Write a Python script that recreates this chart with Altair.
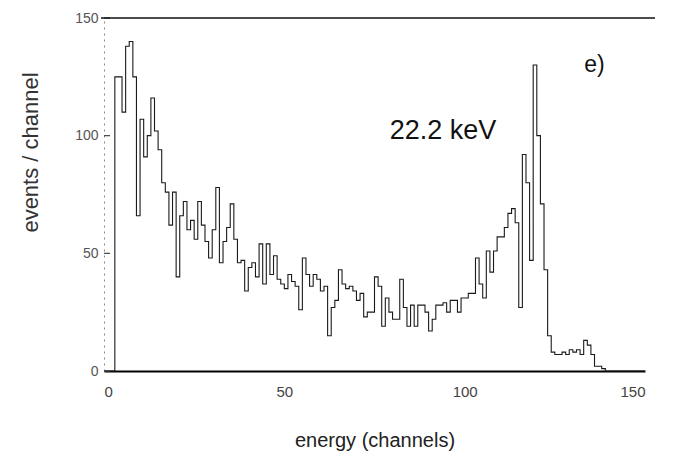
import altair as alt
import pandas as pd

# histogram counts per channel (channel 0..149)
counts = [
    0, 0, 0, 125, 125, 110, 138, 140, 125, 66,
    107, 91, 100, 116, 102, 94, 80, 76, 62, 76,
    40, 66, 72, 60, 64, 56, 72, 62, 55, 48,
    60, 78, 46, 55, 61, 71, 56, 46, 47, 34,
    44, 46, 40, 54, 37, 54, 41, 49, 39, 37,
    35, 41, 38, 36, 26, 48, 41, 36, 41, 39,
    34, 36, 15, 27, 30, 43, 37, 35, 36, 34,
    30, 33, 23, 25, 25, 40, 36, 19, 31, 25,
    22, 22, 39, 27, 19, 28, 19, 28, 28, 25,
    17, 22, 28, 28, 29, 25, 30, 30, 25, 31,
    31, 33, 33, 48, 37, 31, 51, 42, 51, 57,
    57, 61, 67, 69, 63, 27, 92, 80, 47, 130,
    100, 71, 43, 15, 8, 7, 7, 8, 7, 9,
    8, 9, 7, 13, 11, 7, 2, 2, 1, 0,
    0, 0, 0, 0, 0, 0, 0, 0, 0, 0,
]
channels = list(range(len(counts)))
y_ticks = [0, 50, 100, 150]
x_ticks = [0, 50, 100, 150]
label_text = ["22.2 keV", "e)"]
label_x = [94, 136]
label_y = [102, 130]
label_size = [27, 23]

hist = pd.DataFrame({"channel": channels + [150], "count": counts + [0]})
ticks = pd.DataFrame({"v": y_ticks})
labels = pd.DataFrame({"t": label_text, "x": label_x, "y": label_y, "s": label_size})
top = pd.DataFrame({"v": [150]})

FONT = "Liberation Sans"
xs = alt.Scale(domain=[0, 150], nice=False)
ys = alt.Scale(domain=[0, 150], nice=False)

line = alt.Chart(hist).mark_line(
    interpolate="step-after", color="#1a1a1a", strokeWidth=1.1
).encode(
    x=alt.X("channel:Q", scale=xs,
            axis=alt.Axis(values=x_ticks, title="energy (channels)", grid=False,
                          tickSize=0, labelPadding=13, labelFontSize=15,
                          labelColor="#444", labelFont=FONT, domainColor="#000",
                          domainWidth=2, titleFont=FONT, titleFontSize=20,
                          titleFontWeight="normal", titleColor="#222",
                          titleY=69, titleBaseline="middle")),
    y=alt.Y("count:Q", scale=ys,
            axis=alt.Axis(values=y_ticks, title="events / channel", grid=False,
                          tickSize=0, labelPadding=6, labelFontSize=14,
                          labelColor="#555", labelFont=FONT, domainColor="#888",
                          domainDash=[2, 4], domainWidth=1, titleFont=FONT,
                          titleFontSize=22, titleFontWeight="normal",
                          titleColor="#333", titleX=-74, titleY=134,
                          titleBaseline="middle", titleAlign="center")),
)

inner_ticks = alt.Chart(ticks).mark_rule(color="#444", strokeWidth=1.2).encode(
    y=alt.Y("v:Q", scale=ys), x=alt.value(0), x2=alt.value(6)
)

top_rule = alt.Chart(top).mark_rule(color="#111", strokeWidth=1.5).encode(
    y=alt.Y("v:Q", scale=ys), x=alt.value(-3), x2=alt.value(551)
)

texts = alt.Chart(labels).mark_text(font=FONT, color="#111", align="center",
                                    baseline="middle").encode(
    x=alt.X("x:Q", scale=xs), y=alt.Y("y:Q", scale=ys),
    text="t:N", size=alt.Size("s:Q", scale=None, legend=None)
)

chart = alt.layer(line, inner_ticks, top_rule, texts).properties(
    width=541, height=353,
    autosize=alt.AutoSizeParams(type="none"),
    padding={"left": 104, "top": 18, "right": 45, "bottom": 94},
    background="white",
).configure_view(stroke=None)

chart.save("out.html", embed_options={"renderer": "svg", "actions": False})
